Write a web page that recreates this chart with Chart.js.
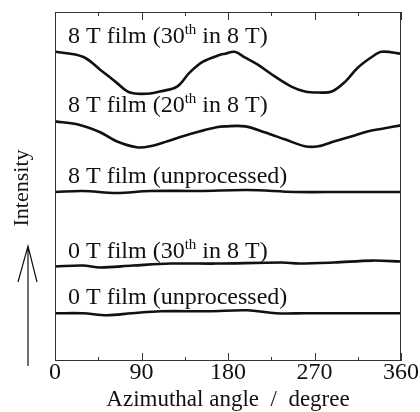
<!DOCTYPE html>
<html>
<head>
<meta charset="utf-8">
<script src="https://cdn.jsdelivr.net/npm/chart.js@4.4.0/dist/chart.umd.min.js"></script>
<style>
  html, body { margin: 0; padding: 0; background: #fff; }
  #wrap { width: 420px; height: 412px; }
</style>
</head>
<body>
<div id="wrap"><canvas id="chart"></canvas></div>
<script>
// azimuthal angle tick labels (degree)
const angleTicks = [0, 90, 180, 270, 360];
const minorTicks = [45, 135, 225, 315];

// curves, intensity in arbitrary units (0..351)
const film8T30Angle = [0, 29, 47, 64, 78, 99, 109, 127, 140, 154, 172, 177, 187, 198, 211, 229, 246, 260, 274, 288, 302, 315, 330, 340, 360];
const film8T30Value = [311, 306, 293, 280, 270, 269, 271, 276, 290, 301, 308, 309, 311, 305, 298, 286, 276, 271, 270, 271, 281, 295, 306, 311, 309];

const film8T20Angle = [0, 23, 47, 64, 85, 99, 117, 133, 151, 168, 177, 198, 218, 239, 260, 274, 291, 309, 326, 343, 360];
const film8T20Value = [241, 238, 230, 221, 215, 216, 221, 226, 231, 235, 236, 236, 230, 223, 216, 216, 221, 226, 231, 234, 237];

const film8TrawAngle = [0, 29, 64, 99, 150, 200, 250, 300, 360];
const film8TrawValue = [170, 171, 169, 171, 171, 172, 170, 170, 170];

const film0T30Angle = [0, 29, 47, 81, 120, 168, 236, 254, 290, 330, 360];
const film0T30Value = [95, 96, 94, 96, 98, 98, 99, 98, 99, 101, 100];

const film0TrawAngle = [0, 29, 54, 80, 110, 160, 200, 230, 260, 360];
const film0TrawValue = [48, 48, 46, 48, 50, 50, 51, 48, 48, 48];

// label pieces: [main, superscript, rest]
const curveLabels = [
  ['8 T film (30', 'th', ' in 8 T)'],
  ['8 T film (20', 'th', ' in 8 T)'],
  ['8 T film (unprocessed)', '', ''],
  ['0 T film (30', 'th', ' in 8 T)'],
  ['0 T film (unprocessed)', '', '']
];

const series = [
  [film8T30Angle, film8T30Value],
  [film8T20Angle, film8T20Value],
  [film8TrawAngle, film8TrawValue],
  [film0T30Angle, film0T30Value],
  [film0TrawAngle, film0TrawValue]
];

const serif = "'Liberation Serif', 'Times New Roman', serif";

const datasets = series.map(([ang, val], i) => ({
  label: curveLabels[i].join(''),
  data: ang.map((a, j) => ({ x: a, y: val[j] })),
  borderColor: '#111',
  borderWidth: 2.6,
  pointRadius: 0,
  tension: 0.35,
  fill: false
}));

const decor = {
  id: 'decor',
  afterDatasetsDraw(chart) {
    const { ctx, chartArea: a, scales: { x, y } } = chart;
    ctx.save();
    // frame
    ctx.strokeStyle = '#333';
    ctx.lineWidth = 1;
    ctx.strokeRect(a.left + 0.5, a.top + 0.5, a.right - a.left - 1, a.bottom - a.top - 1);
    // inward ticks top & bottom
    const tick = (v, len) => {
      const px = Math.round(x.getPixelForValue(v)) + 0.5;
      ctx.beginPath();
      ctx.moveTo(px, a.bottom); ctx.lineTo(px, a.bottom - len);
      ctx.moveTo(px, a.top); ctx.lineTo(px, a.top + len);
      ctx.stroke();
    };
    angleTicks.forEach(v => tick(v, 8));
    minorTicks.forEach(v => tick(v, 4));

    // curve labels
    ctx.fillStyle = '#111';
    ctx.textBaseline = 'alphabetic';
    series.forEach(([ang, val], i) => {
      const [main, sup, rest] = curveLabels[i];
      let tx = a.left + 13;
      const ty = y.getPixelForValue(val[0]) - 9;
      ctx.font = '24px ' + serif;
      ctx.fillText(main, tx, ty);
      tx += ctx.measureText(main).width;
      if (sup) {
        ctx.font = '15px ' + serif;
        ctx.fillText(sup, tx, ty - 9);
        tx += ctx.measureText(sup).width;
        ctx.font = '24px ' + serif;
        ctx.fillText(rest, tx, ty);
      }
    });

    // y label and arrow
    ctx.save();
    ctx.translate(28, 188);
    ctx.rotate(-Math.PI / 2);
    ctx.font = '22px ' + serif;
    ctx.textAlign = 'center';
    ctx.fillText('Intensity', 0, 0);
    ctx.restore();

    ctx.strokeStyle = '#111';
    ctx.lineWidth = 1.2;
    ctx.beginPath();
    ctx.moveTo(28, 366); ctx.lineTo(28, 246);
    ctx.moveTo(18, 282); ctx.lineTo(28, 246); ctx.lineTo(37, 282);
    ctx.stroke();
    ctx.restore();
  }
};

new Chart(document.getElementById('chart'), {
  type: 'line',
  data: { datasets },
  options: {
    responsive: true,
    maintainAspectRatio: false,
    animation: false,
    layout: { padding: { left: 55, right: 19, top: 12, bottom: 1 } },
    plugins: { legend: { display: false }, tooltip: { enabled: false } },
    scales: {
      x: {
        type: 'linear',
        min: 0,
        max: 360,
        afterBuildTicks: s => { s.ticks = angleTicks.map(v => ({ value: v })); },
        grid: { display: false, drawTicks: false },
        border: { display: false },
        ticks: {
          color: '#111',
          padding: 0,
          maxRotation: 0,
          font: { family: serif, size: 24, lineHeight: 1 }
        },
        title: {
          display: true,
          text: 'Azimuthal angle  /  degree',
          color: '#111',
          padding: { top: 3, bottom: 0 },
          font: { family: serif, size: 23, lineHeight: 1 }
        }
      },
      y: { display: false, min: 0, max: 351 }
    }
  },
  plugins: [decor]
});
</script>
</body>
</html>
